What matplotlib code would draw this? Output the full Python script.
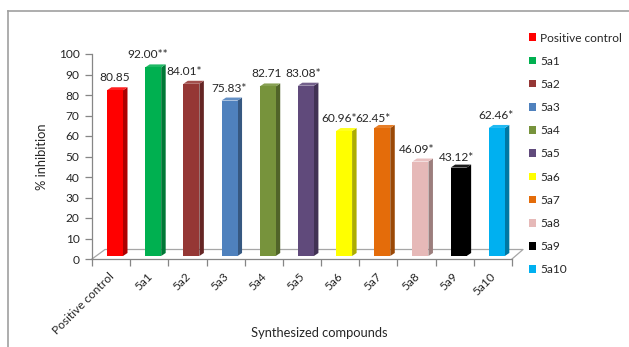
import matplotlib
matplotlib.use("Agg")
import matplotlib.pyplot as plt
from matplotlib.patches import Polygon, Patch
import numpy as np

plt.rcParams['font.family'] = ['Lato', 'DejaVu Sans']

categories = ["Positive control", "5a1", "5a2", "5a3", "5a4", "5a5",
              "5a6", "5a7", "5a8", "5a9", "5a10"]
values = [80.85, 92.00, 84.01, 75.83, 82.71, 83.08, 60.96, 62.45, 46.09, 43.12, 62.46]
marks = ["", "**", "*", "*", "", "*", "*", "*", "*", "*", "*"]
colors = ["#FF0000", "#00B050", "#953735", "#4F81BD", "#77933C", "#604A7B",
          "#FFFF00", "#E46C0A", "#E6B9B8", "#000000", "#00B0F0"]
yticks = [0, 10, 20, 30, 40, 50, 60, 70, 80, 90, 100]

# label nudges in pixels (style only)
lab_dx = [0, -5, -7, 0, -1, -3, -5, -9, -4, -2, -1]
lab_dy = [0, 0, 0, 0, 0, 0, 0, -3, 0, -2, 0]

W, H = 629, 347
fig = plt.figure(figsize=(W / 100, H / 100), dpi=100)
fig.patch.set_facecolor("white")

ax_l, ax_r, ax_b, ax_t = 92, 512, 259, 54
ax = fig.add_axes([ax_l / W, (H - ax_b) / H, (ax_r - ax_l) / W, (ax_b - ax_t) / H])
ax.set_xlim(-0.5, len(categories) - 0.5)
ax.set_ylim(0, 100)
ax.patch.set_alpha(0)

ux = (ax_r - ax_l) / len(categories)   # px per category
uy = (ax_b - ax_t) / 100.0             # px per unit

DX = 4.5 / ux
DY = 3.0 / uy
front_left = 15 / ux - 0.5
bw = 16 / ux
FS = 8.6


def shade(c, f):
    c = np.array(matplotlib.colors.to_rgb(c))
    return tuple(np.clip(c * f, 0, 1))


def tint(c, f):
    c = np.array(matplotlib.colors.to_rgb(c))
    return tuple(np.clip(c + (1 - c) * f, 0, 1))


# floor
fdx_l = 13 / ux
fdx_r = 11 / ux
fdy = 9.5 / uy
xl, xr = -0.5, len(categories) - 0.5
floor_col = "#A6A6A6"
ax.plot([xl, xl + fdx_l, xr + fdx_r, xr], [0, fdy, fdy, 0], color=floor_col,
        lw=0.9, clip_on=False, zorder=1)

for i, (v, c) in enumerate(zip(values, colors)):
    x0 = i + front_left
    y0 = DY
    y1 = v + DY
    side = Polygon([(x0 + bw, y0), (x0 + bw + DX, y0 + DY), (x0 + bw + DX, y1 + DY), (x0 + bw, y1)],
                   closed=True, facecolor=shade(c, 0.68), edgecolor="none", clip_on=False, zorder=3)
    top = Polygon([(x0, y1), (x0 + DX, y1 + DY), (x0 + bw + DX, y1 + DY), (x0 + bw, y1)],
                  closed=True, facecolor=tint(c, 0.12) if c != "#000000" else "#1a1a1a",
                  edgecolor="none", clip_on=False, zorder=3)
    ax.add_patch(side)
    ax.add_patch(top)
    ax.bar(x0, y1 - y0, bottom=y0, width=bw, align="edge", color=c, zorder=4, clip_on=False)
    ax.text(x0 + bw / 2 + lab_dx[i] / ux, y1 + (7 + lab_dy[i]) / uy, f"{v:.2f}{marks[i]}",
            ha="center", va="bottom", fontsize=FS, color="#262626", clip_on=False)

for s in ["top", "right"]:
    ax.spines[s].set_visible(False)
ax.spines["left"].set_color("#868686")
ax.spines["bottom"].set_color("#868686")
ax.spines["left"].set_linewidth(0.9)
ax.spines["bottom"].set_linewidth(0.9)

ax.set_yticks(yticks)
ax.set_yticklabels([str(t) for t in yticks], fontsize=FS, color="#262626")
ax.set_xticks(np.arange(len(categories) + 1) - 0.5, minor=False)
ax.set_xticklabels([])
ax.tick_params(axis="both", length=5, color="#868686", width=0.9, direction="out")
ax.tick_params(axis="y", pad=4)

for i, cat in enumerate(categories):
    ax.text(i + 5 / ux, -12 / uy, cat, rotation=45, ha="right", va="top", fontsize=FS,
            color="#262626", rotation_mode="default", clip_on=False)

ax.set_ylabel("% inhibition", fontsize=9.3, color="#262626", labelpad=8)
fig.text(319 / W, 1 - 333 / H, "Synthesized compounds", ha="center", va="center",
         fontsize=9.3, color="#262626")

# border (top & left)
fig.add_artist(plt.Line2D([7.5 / W, 1], [1 - 10.5 / H, 1 - 10.5 / H], color="#A0A0A0", lw=1.2))
fig.add_artist(plt.Line2D([7.5 / W, 7.5 / W], [0, 1 - 10.5 / H], color="#A0A0A0", lw=1.2))

handles = [Patch(facecolor=c, edgecolor="none") for c in colors]
leg = fig.legend(handles, categories, loc="upper left",
                 bbox_to_anchor=(529 / W, 1 - 32.5 / H), frameon=False,
                 fontsize=FS, handlelength=0.6, handleheight=0.6, handletextpad=0.35,
                 labelspacing=1.02, borderaxespad=0, borderpad=0)
for t in leg.get_texts():
    t.set_color("#262626")

fig.savefig("out.png", dpi=100, facecolor="white")
